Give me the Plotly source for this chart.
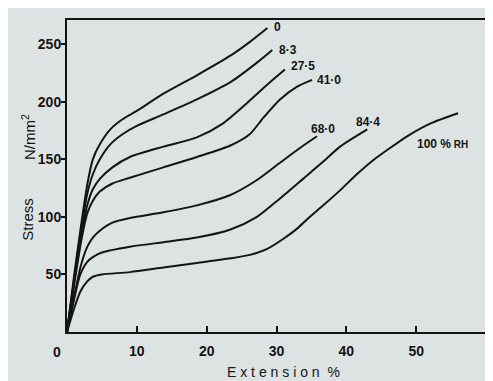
import plotly.graph_objects as go

# Stress–extension curves at different relative humidities
rh_labels = ["0", "8·3", "27·5", "41·0", "68·0", "84·4", "100 % RH"]

ext_0 = [0, 1.0, 2.0, 2.9, 3.7, 4.7, 6.2, 8.0, 10.0, 13.8, 18.6, 23.4, 26.2, 28.7]
str_0 = [0, 48, 92, 128, 150, 163, 176, 185, 192, 207, 223, 240, 252, 264]

ext_8 = [0, 1.0, 2.0, 2.9, 3.7, 4.7, 6.2, 8.0, 10.0, 13.8, 18.6, 23.4, 27.2, 29.4]
str_8 = [0, 45, 88, 120, 137, 150, 163, 172, 179, 189, 202, 217, 234, 245]

ext_27 = [0, 1.0, 2.0, 2.9, 3.7, 4.7, 6.5, 9.0, 13.8, 18.6, 22.3, 25.8, 28.7, 31.2]
str_27 = [0, 42, 82, 110, 124, 133, 143, 152, 161, 169, 181, 199, 215, 228]

ext_41 = [0, 1.0, 2.0, 2.9, 3.7, 4.7, 6.5, 9.0, 13.8, 18.6, 23.4, 26.2, 28.1, 30.5, 32.9, 35.1]
str_41 = [0, 40, 78, 103, 114, 122, 129, 134, 143, 152, 162, 172, 186, 202, 213, 219]

ext_68 = [0, 1.0, 2.0, 2.9, 3.7, 4.7, 6.5, 9.0, 13.8, 18.6, 23.4, 27.2, 30.5, 33.4, 35.8]
str_68 = [0, 30, 58, 74, 82, 88, 95, 99, 104, 110, 119, 132, 147, 160, 170]

ext_84 = [0, 1.0, 1.9, 2.9, 3.7, 5.0, 9.0, 13.8, 18.6, 23.4, 27.2, 30.5, 33.8, 36.7, 39.1, 43.0]
str_84 = [0, 28, 50, 61, 65, 69, 74, 78, 82, 89, 100, 116, 133, 148, 161, 176]

ext_100 = [0, 1.0, 1.9, 2.9, 3.7, 5.0, 9.0, 13.8, 18.6, 23.4, 26.2, 28.6, 31.0, 33.0, 34.4,
           36.7, 39.1, 41.5, 43.8, 46.3, 48.7, 52.0, 56.0]
str_100 = [0, 20, 35, 44, 48, 50, 52, 56, 60, 64, 67, 72, 81, 90, 98,
           110, 123, 137, 149, 160, 170, 181, 190]

curves = [
    (ext_0, str_0), (ext_8, str_8), (ext_27, str_27), (ext_41, str_41),
    (ext_68, str_68), (ext_84, str_84), (ext_100, str_100),
]

label_x = [30.1, 31.6, 33.8, 37.5, 36.7, 43.1, 53.7]
label_y = [265, 245, 231, 219, 176, 182, 163]

x_ticks = [10, 20, 30, 40, 50, 60]
y_ticks = [50, 100, 150, 200, 250]

ink = "#141414"
paper = "#dde3e2"

fig = go.Figure()
for (xs, ys) in curves:
    fig.add_trace(go.Scatter(
        x=xs, y=ys, mode="lines",
        line=dict(color=ink, width=2, shape="spline", smoothing=0.7),
        hoverinfo="skip", showlegend=False,
    ))

for lab, lx, ly in zip(rh_labels, label_x, label_y):
    txt = lab
    if lab.endswith("RH"):
        txt = "100 %<span style='font-size:10px'> RH</span>"
    fig.add_annotation(
        x=lx, y=ly, text="<b>" + txt + "</b>", showarrow=False,
        font=dict(family="Liberation Sans", size=12, color=ink),
    )

# axis titles
fig.add_annotation(xref="paper", yref="paper", x=-0.093, y=0.36,
                   xanchor="center", yanchor="middle",
                   text="Stress", textangle=-90, showarrow=False,
                   font=dict(family="Liberation Sans", size=15, color=ink))
fig.add_annotation(xref="paper", yref="paper", x=-0.093, y=0.625,
                   xanchor="center", yanchor="middle",
                   text="N/mm<sup>2</sup>", textangle=-90, showarrow=False,
                   font=dict(family="Liberation Sans", size=15, color=ink))
fig.add_annotation(xref="paper", yref="paper", x=0.516, y=-0.128,
                   xanchor="center", yanchor="middle",
                   text="E x t e n s i o n  %", showarrow=False,
                   font=dict(family="Liberation Sans", size=14, color=ink))
# "0" tick label slightly left of the origin
fig.add_annotation(xref="paper", yref="paper", x=-0.024, y=-0.064,
                   xanchor="center", yanchor="middle",
                   text="<b>0</b>", showarrow=False,
                   font=dict(family="Liberation Sans", size=14, color=ink))

fig.update_xaxes(
    range=[0, 60], tickvals=x_ticks, ticks="inside", ticklen=6, tickwidth=2,
    tickcolor=ink, showline=True, linecolor=ink, linewidth=2, mirror=True,
    showgrid=False, zeroline=False, automargin=False, ticklabelstandoff=5,
    tickfont=dict(family="Liberation Sans", size=14, color=ink, weight="bold"),
)
fig.update_yaxes(
    range=[0, 271], tickvals=y_ticks, ticks="outside", ticklen=4, tickwidth=2,
    tickcolor=ink, showline=True, linecolor=ink, linewidth=2, mirror=True,
    showgrid=False, zeroline=False, automargin=False, ticklabelstandoff=-3,
    tickfont=dict(family="Liberation Sans", size=14, color=ink, weight="bold"),
)

# the page body adds an 8px white margin, which plays the role of the
# white border of the photographed page
fig.update_layout(
    width=485, height=373,
    margin=dict(l=59, r=7, t=12, b=49),
    paper_bgcolor=paper, plot_bgcolor=paper,
)

fig.write_html("out.html")
